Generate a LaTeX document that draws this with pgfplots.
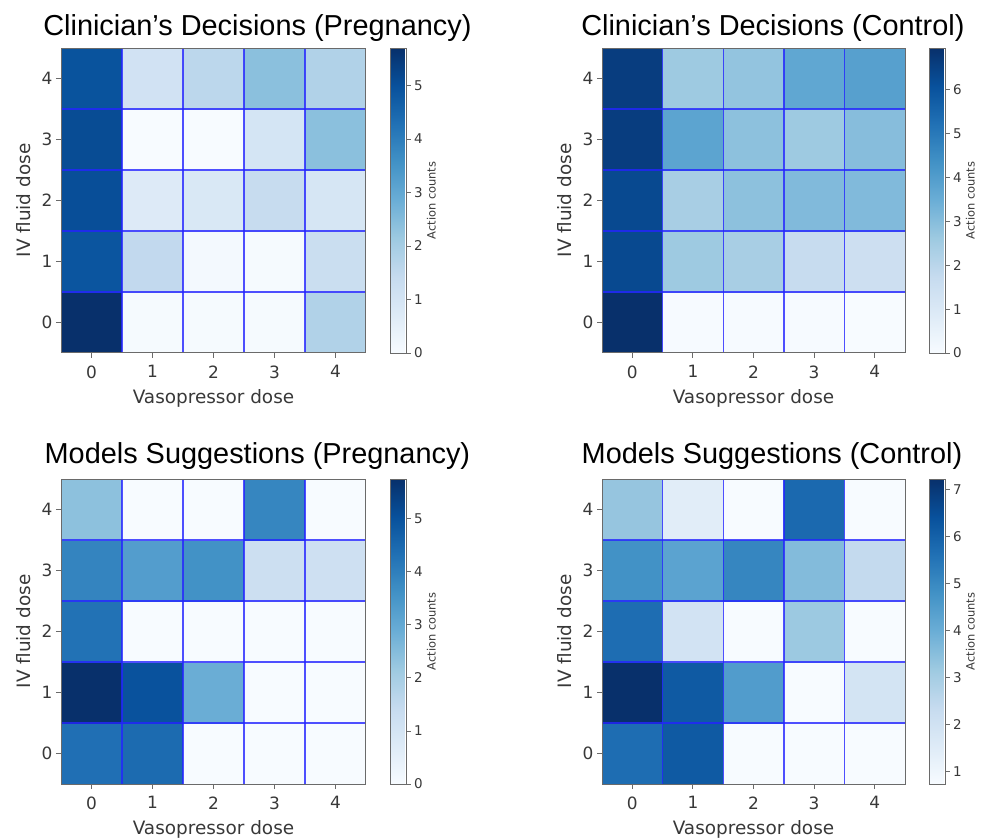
\documentclass[border=0pt]{standalone}
\usepackage{fontspec}
\setmainfont{DejaVu Sans}
\newfontfamily\arialf{Liberation Sans}
\usepackage{pgfplots}
\usepackage{pgfplotstable}
\pgfplotsset{compat=1.18}

\definecolor{tickgray}{HTML}{383838}
\definecolor{framegray}{HTML}{6A6A6A}
\definecolor{gridblue}{HTML}{2424FF}

\pgfplotstableread{
x y c
0 0 5.7
1 0 0.05
2 0 0.05
3 0 0.05
4 0 1.8
0 1 4.9
1 1 1.5
2 1 0.1
3 1 0.05
4 1 1.3
0 2 5.05
1 2 0.75
2 2 0.85
3 2 1.4
4 2 0.95
0 3 5.1
1 3 0.0
2 3 0.0
3 3 1.0
4 3 2.4
0 4 4.95
1 4 1.1
2 4 1.6
3 4 2.4
4 4 1.8
}\clinpreg

\pgfplotstableread{
x y c
0 0 6.95
1 0 0.05
2 0 0.05
3 0 0.05
4 0 0.0
0 1 6.3
1 1 2.6
2 1 2.4
3 1 1.7
4 1 1.5
0 2 6.3
1 2 2.4
2 2 2.9
3 2 3.1
4 2 3.1
0 3 6.6
1 3 3.8
2 3 2.9
3 3 2.6
4 3 3.0
0 4 6.6
1 4 2.6
2 4 2.8
3 4 3.7
4 4 3.9
}\clincont

\pgfplotstableread{
x y c
0 0 4.35
1 0 4.45
2 0 0.0
3 0 0.0
4 0 0.0
0 1 5.75
1 1 5.0
2 1 2.9
3 1 0.0
4 1 0.0
0 2 4.3
1 2 0.0
2 2 0.0
3 2 0.0
4 2 0.0
0 3 3.9
1 3 3.3
2 3 3.6
3 3 1.25
4 3 1.2
0 4 2.4
1 4 0.0
2 4 0.0
3 4 3.85
4 4 0.0
}\modpreg

\pgfplotstableread{
x y c
0 0 5.7
1 0 6.2
2 0 0.73
3 0 0.73
4 0 0.73
0 1 7.23
1 1 6.2
2 1 4.5
3 1 0.73
4 1 1.9
0 2 5.7
1 2 1.95
2 2 0.73
3 2 3.2
4 2 0.73
0 3 4.8
1 3 4.3
2 3 5.1
3 3 3.6
4 3 2.4
0 4 3.3
1 4 1.45
2 4 0.73
3 4 5.8
4 4 0.73
}\modcont

\pgfplotsset{
 colormap={blues}{rgb255=(247,251,255) rgb255=(222,235,247) rgb255=(198,219,239) rgb255=(158,202,225) rgb255=(107,174,214) rgb255=(66,146,198) rgb255=(33,113,181) rgb255=(8,81,156) rgb255=(8,48,107)},
 heat/.style={
  scale only axis, width=305bp, height=305bp,
  xmin=-0.5, xmax=4.5, ymin=-0.5, ymax=4.5,
  xtick={0,...,4}, ytick={0,...,4},
  minor xtick={0.5,1.5,2.5,3.5}, minor ytick={0.5,1.5,2.5,3.5},
  xminorgrids, yminorgrids,
  minor grid style={gridblue, opacity=0.8, line width=1.4bp},
  minor tick length=0pt,
  major tick length=5bp,
  tick align=outside,
  xtick pos=bottom, ytick pos=left,
  tick style={framegray, line width=0.9bp},
  axis line style={framegray, line width=1bp},
  axis on top,
  enlargelimits=false,
  /pgf/number format/assume math mode=true,
  ticklabel style={font=\fontsize{17}{17}\selectfont, text=tickgray},
  xticklabel style={yshift=-4bp},
  xlabel={Vasopressor dose}, ylabel={IV fluid dose},
  label style={font=\fontsize{18.5}{18.5}\selectfont, text=tickgray},
  xlabel style={at={(axis description cs:0.5,-0.164)}, anchor=base},
  ylabel style={at={(axis description cs:-0.1,0.5)}, anchor=base},
  title style={font=\arialf\fontsize{29}{29}\selectfont, anchor=base, text=black},
  colormap name=blues,
  colorbar,
  colorbar style={
   at={(parent axis.north east)}, anchor=north west, xshift=16bp,
   scale only axis, width=16bp, height=305bp,
   axis line style={framegray, line width=1bp},
   tick style={framegray, line width=0.9bp}, major tick length=4bp, tick align=outside,
   ytick pos=right, yticklabel pos=right,
   /pgf/number format/assume math mode=true,
   yticklabel style={font=\fontsize{13.5}{13.5}\selectfont, text=tickgray},
   ylabel={Action counts},
   ylabel style={font=\fontsize{11.5}{11.5}\selectfont, text=tickgray, at={(axis description cs:2.55,0.5)}, anchor=center},
  },
 }
}

\begin{document}
\begin{tikzpicture}
\useasboundingbox (0,0) rectangle (981bp,-840bp);

\begin{axis}[heat, at={(61bp,-48bp)}, anchor=north west,
  title={Clinician’s Decisions (Pregnancy)},
  title style={at={(axis description cs:0.644,1.022)}},
  point meta min=0, point meta max=5.7,
  colorbar style={ytick={0,...,5}}]
\addplot[matrix plot*, mesh/cols=5, point meta=explicit] table[meta=c] {\clinpreg};
\end{axis}

\begin{axis}[heat, at={(602bp,-48bp)}, anchor=north west, width=303bp,
  title={Clinician’s Decisions (Control)},
  title style={at={(axis description cs:0.564,1.022)}},
  point meta min=0, point meta max=6.95,
  colorbar style={ytick={0,...,6}}]
\addplot[matrix plot*, mesh/cols=5, point meta=explicit] table[meta=c] {\clincont};
\end{axis}

\begin{axis}[heat, at={(61bp,-479bp)}, anchor=north west,
  title={Models Suggestions (Pregnancy)},
  title style={at={(axis description cs:0.644,1.032)}},
  point meta min=0, point meta max=5.75,
  colorbar style={ytick={0,...,5}}]
\addplot[matrix plot*, mesh/cols=5, point meta=explicit] table[meta=c] {\modpreg};
\end{axis}

\begin{axis}[heat, at={(602bp,-479bp)}, anchor=north west, width=303bp,
  title={Models Suggestions (Control)},
  title style={at={(axis description cs:0.561,1.032)}},
  point meta min=0.73, point meta max=7.23,
  colorbar style={ytick={1,...,7}}]
\addplot[matrix plot*, mesh/cols=5, point meta=explicit] table[meta=c] {\modcont};
\end{axis}
\end{tikzpicture}
\end{document}
